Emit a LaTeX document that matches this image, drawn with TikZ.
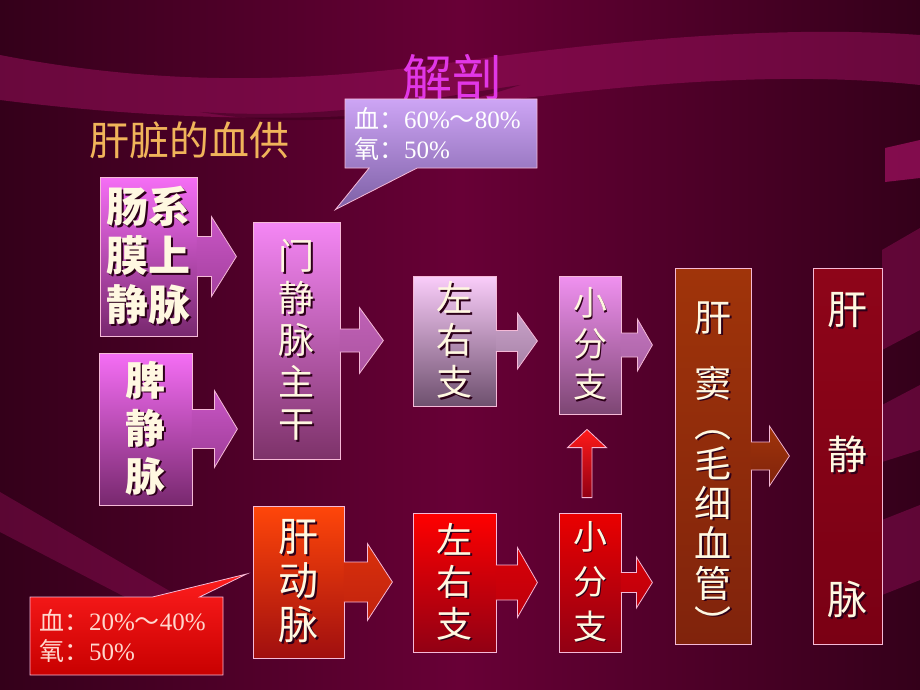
\documentclass[tikz,border=0pt]{standalone}
\usepackage{fontspec}
\setmainfont{Liberation Serif}
\newfontfamily\cjk{Noto Sans CJK SC}
\usetikzlibrary{calc,positioning,shapes.callouts}

\definecolor{bgmid}{RGB}{104,0,54}
\definecolor{bgdark}{RGB}{52,0,26}
\definecolor{bandc}{RGB}{150,15,90}
\definecolor{edgec}{RGB}{245,185,215}
\definecolor{textc}{RGB}{255,248,225}
\definecolor{shadc}{RGB}{45,0,25}
\definecolor{magtop}{RGB}{245,110,245}
\definecolor{magbot}{RGB}{120,40,110}
\definecolor{pvtop}{RGB}{245,135,245}
\definecolor{pvbot}{RGB}{125,50,105}
\definecolor{lvtop}{RGB}{250,205,250}
\definecolor{lvbot}{RGB}{110,80,110}
\definecolor{sbtop}{RGB}{240,145,240}
\definecolor{sbbot}{RGB}{125,70,115}
\definecolor{sintop}{RGB}{160,52,10}
\definecolor{sinbot}{RGB}{128,35,12}
\definecolor{hvtop}{RGB}{142,5,25}
\definecolor{hvbot}{RGB}{122,0,20}
\definecolor{hatop}{RGB}{255,70,10}
\definecolor{habot}{RGB}{160,15,15}
\definecolor{redtop}{RGB}{255,0,0}
\definecolor{redbot}{RGB}{145,0,20}
\definecolor{notep1}{RGB}{205,165,245}
\definecolor{notep2}{RGB}{125,95,165}
\definecolor{noter1}{RGB}{255,30,30}
\definecolor{noter2}{RGB}{200,0,0}
\definecolor{titlec}{RGB}{225,55,230}
\definecolor{subc}{RGB}{240,180,90}

\tikzset{>=stealth,
  box/.style={draw=edgec, line width=0.8pt, inner sep=0pt, align=center, text=textc},
  arrowfill/.style 2 args={draw=edgec, line width=0.8pt, top color=#1, bottom color=#2},
  note/.style={rectangle callout, draw=edgec, line width=0.8pt, inner xsep=9pt,
    align=left, font=\fontsize{25}{30}\selectfont}
}

% text with a small dark shadow
\newcommand{\sh}[1]{\rlap{\kern1.6pt\raisebox{-1.6pt}{\textcolor{shadc}{#1}}}#1}
\newcommand{\fs}[2]{\cjk\fontsize{#1}{#2}\selectfont}
% node, shaft, head, shaft half, head half, top colour, bottom colour
\newcommand{\blockarrow}[7]{%
  \draw[arrowfill={#6}{#7}] ($(#1.east)+(-0.6,-#4)$) -- ++(#2+0.6,0) -- ++(0,#4-#5)
    -- ++(#3,#5) -- ++(-#3,#5) -- ++(0,#4-#5) -- ++(-#2-0.6,0);}

\begin{document}
\begin{tikzpicture}[x=1pt,y=-1pt]
  \useasboundingbox (0,0) rectangle (920,690);
  % background
  \fill[left color=bgdark, right color=bgdark, middle color=bgmid] (0,0) rectangle (920,690);
  \fill[bandc, opacity=0.55] (0,55) .. controls (180,90) and (330,80) .. (470,60)
    .. controls (620,40) and (780,25) .. (920,35) -- (920,85)
    .. controls (780,70) and (620,85) .. (470,105) .. controls (330,125) and (160,120) .. (0,100) -- cycle;
  \fill[bgdark, opacity=0.45] (200,112) .. controls (330,120) and (420,100) .. (520,85)
    .. controls (440,112) and (320,132) .. (200,112) -- cycle;
  \fill[bandc, opacity=0.8] (885,148) -- (920,140) -- (920,178) -- (885,182) -- cycle;
  \fill[bandc, opacity=0.45] (882,250) -- (920,228) -- (920,330) -- (882,350) -- cycle;
  \fill[bandc, opacity=0.45] (882,405) -- (920,385) -- (920,450) -- (882,462) -- cycle;
  \fill[bandc, opacity=0.45] (882,520) -- (920,505) -- (920,580) -- (882,595) -- cycle;
  \fill[bandc, opacity=0.4] (0,492) -- (0,532) -- (150,610) -- (185,600) -- cycle;

  \node[font={\fs{50}{56}}, text=titlec] (title) at (452,78) {解剖};
  \node[font={\fs{40}{44}}, text=subc] (subt) at (189,140) {肝脏的血供};

  % portal side
  \node[box, minimum width=97, minimum height=159, top color=magtop, bottom color=magbot,
    font={\fs{42}{49}\bfseries}] (smv) at (148.5,256.5) {\sh{肠系}\\\sh{膜上}\\\sh{静脉}};
  \node[box, minimum width=93, minimum height=152, top color=magtop, bottom color=magbot,
    font={\fs{40}{48}\bfseries}] (spl) at (145.5,429) {\sh{脾}\\\sh{静}\\\sh{脉}};
  \node[box, minimum width=87, minimum height=237, top color=pvtop, bottom color=pvbot,
    font={\fs{36}{42}}] (pv) at (296.5,340.5) {\sh{门}\\\sh{静}\\\sh{脉}\\\sh{主}\\\sh{干}};
  \node[box, minimum width=83, minimum height=130, top color=lvtop, bottom color=lvbot,
    font={\fs{36}{42}}] (lr1) at (454.5,341) {\sh{左}\\\sh{右}\\\sh{支}};
  \node[box, minimum width=62, minimum height=138, top color=sbtop, bottom color=sbbot,
    font={\fs{34}{41}}] (sb1) at (590,345) {\sh{小}\\\sh{分}\\\sh{支}};

  % arterial side
  \node[box, minimum width=91, minimum height=152, top color=hatop, bottom color=habot,
    font={\fs{40}{44}}] (ha) at (298.5,582) {\sh{肝}\\\sh{动}\\\sh{脉}};
  \node[box, minimum width=83, minimum height=139, top color=redtop, bottom color=redbot,
    font={\fs{36}{42}}] (lr2) at (454.5,582.5) {\sh{左}\\\sh{右}\\\sh{支}};
  \node[box, minimum width=62, minimum height=139, top color=redtop!92!black, bottom color=redbot,
    font={\fs{34}{45}}] (sb2) at (590,582.5) {\sh{小}\\\sh{分}\\\sh{支}};

  % sinusoids and hepatic vein
  \node[box, minimum width=76, minimum height=376, top color=sintop, bottom color=sinbot,
    font={\fs{37}{40}}] (sin) at (713,456)
    {\rule{0pt}{56pt}\sh{肝}\\[26pt]\sh{窦}\\\sh{︵}\\\sh{毛}\\\sh{细}\\\sh{血}\\\sh{管}\\
     \raisebox{0pt}[\height][-20pt]{\sh{︶}}};
  \node[box, minimum width=69, minimum height=376, top color=hvtop, bottom color=hvbot,
    font={\fs{40}{145}}] (hv) at (847.5,456) {\sh{肝}\\\sh{静}\\\sh{脉}};

  \blockarrow{smv}{14}{25}{20}{40}{magtop!65!magbot}{magtop!35!magbot}
  \blockarrow{spl}{22}{23}{19.5}{38.5}{magtop!65!magbot}{magtop!30!magbot}
  \blockarrow{pv}{19}{24}{11.5}{33}{pvtop!55!pvbot}{pvtop!40!pvbot}
  \blockarrow{lr1}{21}{20}{10.5}{28}{lvtop!65!lvbot}{lvtop!40!lvbot}
  \blockarrow{sb1}{16}{15}{12}{26}{sbtop!60!sbbot}{sbtop!40!sbbot}
  \blockarrow{sin}{18}{20}{14}{30}{sintop}{sinbot}
  \blockarrow{ha}{23}{25}{20}{38.5}{hatop!60!habot}{hatop!35!habot}
  \blockarrow{lr2}{21}{20}{17.5}{35}{redtop!65!redbot}{redtop!40!redbot}
  \blockarrow{sb2}{15}{16}{10}{25.5}{redtop!60!redbot}{redtop!40!redbot}

  % branch joins the portal branch
  \coordinate (upb) at ($(sb2.north)+(-3,-15)$);
  \coordinate (upt) at ($(sb1.south)+(-3,15)$);
  \draw[arrowfill={redtop!90!white}{redbot}] ($(upb)+(-5,0)$) -- ++(0,-50) -- ++(-14.5,0)
    -- (upt) -- ($(upb)+(19.5,-50)$) -- ++(-14.5,0) -- ++(0,50) -- cycle;

  % callouts
  \node[note, top color=notep1, bottom color=notep2, text=white, minimum width=192,
    minimum height=69, text width=174, callout pointer width=48,
    callout absolute pointer={($(pv.north east)+(-5,-12)$)}] (pvnote) at (441,133.5)
    {{\cjk 血：}60\%{\cjk ～}80\%\\{\cjk 氧：}50\%};
  \node[note, top color=noter1, bottom color=noter2, text={rgb,255:red,255;green,215;blue,205},
    minimum width=193, minimum height=78, text width=175, callout pointer width=47,
    callout absolute pointer={($(ha.west)+(-6,-8)$)}] (hanote) at (126.5,636)
    {{\cjk 血：}20\%{\cjk ～}40\%\\{\cjk 氧：}50\%};
\end{tikzpicture}
\end{document}
